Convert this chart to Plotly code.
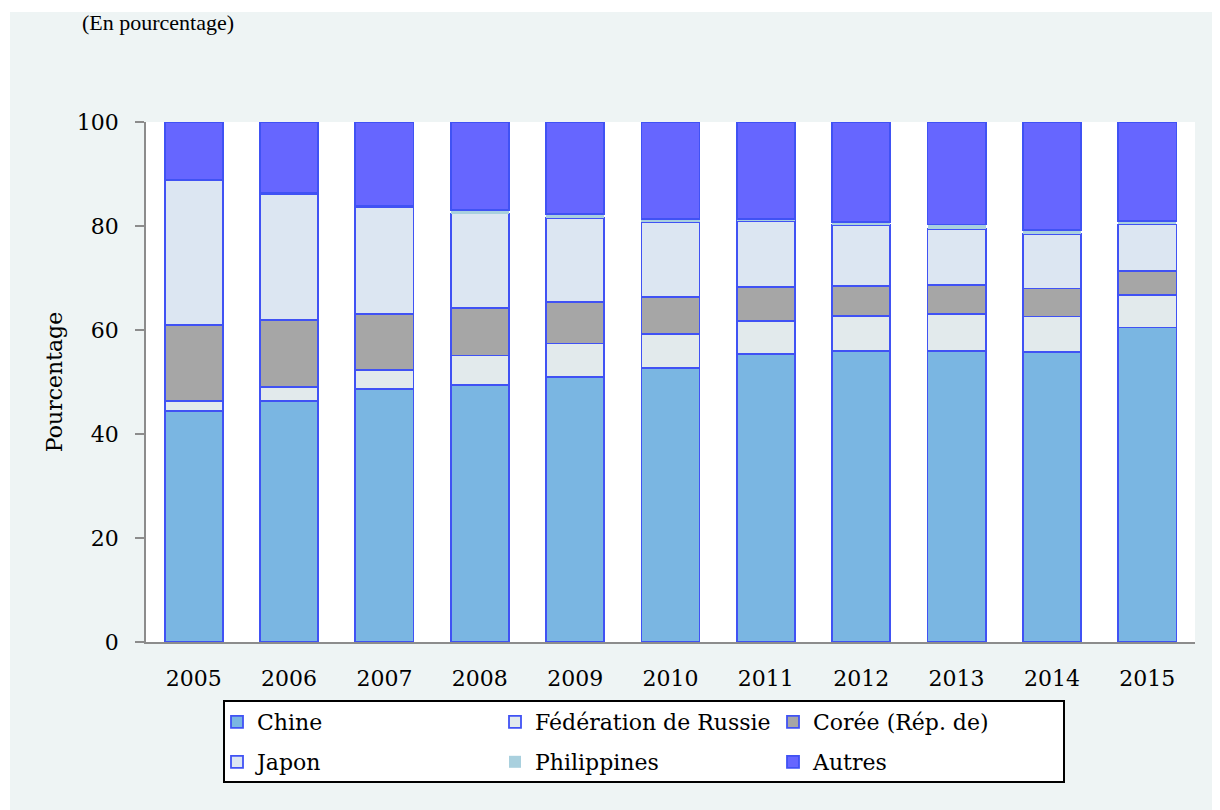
import plotly.graph_objects as go

years = ["2005", "2006", "2007", "2008", "2009", "2010", "2011", "2012", "2013", "2014", "2015"]
chine = [44.5, 46.4, 48.7, 49.5, 51.0, 52.7, 55.4, 56.0, 56.0, 55.7, 60.5]
russie = [1.9, 2.6, 3.6, 5.6, 6.4, 6.6, 6.4, 6.7, 7.1, 6.9, 6.3]
coree = [14.6, 13.0, 10.8, 9.2, 8.0, 7.1, 6.4, 5.8, 5.6, 5.4, 4.5]
japon = [27.9, 24.2, 20.6, 18.1, 16.2, 14.3, 12.7, 11.7, 10.8, 10.5, 9.0]
philippines = [0.0, 0.1, 0.2, 0.7, 0.7, 0.6, 0.5, 0.5, 0.8, 0.8, 0.7]
autres = [11.1, 13.7, 16.1, 16.9, 17.7, 18.7, 18.6, 19.3, 19.7, 20.7, 19.0]

series_names = ["Chine", "Fédération de Russie", "Corée (Rép. de)", "Japon", "Philippines", "Autres"]
series_values = [chine, russie, coree, japon, philippines, autres]
fill_colors = ["#7AB6E2", "#E2EAEC", "#A6A6A6", "#DCE6F2", "#A9D0DE", "#6666FF"]
outline = "#4052F4"
outline_widths = [1.8, 1.8, 1.8, 1.8, 0, 1.8]
legend_ids = ["legend", "legend2", "legend3", "legend4", "legend5", "legend6"]

# page is 1220 x 810, the html body adds an 8px margin
OFF = 8
PAGE_W, PAGE_H = 1220, 810
W, H = PAGE_W - OFF, PAGE_H - OFF
# plot area in page pixels
L, R, T, B = 146 - OFF, 1195 - OFF, 122 - OFF, 642 - OFF
pw, ph = R - L, B - T


def px_x(x):
    """page pixel x -> paper coordinate"""
    return (x - OFF - L) / pw


def px_y(y):
    """page pixel y -> paper coordinate"""
    return (B - (y - OFF)) / ph


FONT = "DejaVu Serif"

fig = go.Figure()
for name, vals, col, lw, lg in zip(series_names, series_values, fill_colors, outline_widths, legend_ids):
    fig.add_trace(go.Bar(
        x=years, y=vals, name=name, legend=lg,
        marker=dict(color=col, line=dict(color=outline, width=lw)),
    ))

# legend layout: 3 columns x 2 rows (page pixel positions of text starts / row centres)
text_starts = [255, 533, 811]
row_y = [722, 762]
legend_layouts = {}
for i, lg in enumerate(legend_ids):
    col = i % 3
    row = i // 3
    legend_layouts[lg] = dict(
        x=px_x(text_starts[col] - 38), y=px_y(row_y[row]),
        xref="paper", yref="paper", xanchor="left", yanchor="middle",
        bgcolor="rgba(0,0,0,0)", borderwidth=0,
        font=dict(family=FONT, size=22, color="black"),
    )

fig.update_layout(
    width=W, height=H,
    margin=dict(l=L, r=W - R, t=T, b=H - B, pad=0),
    paper_bgcolor="#EEF4F4",
    plot_bgcolor="white",
    barmode="stack",
    bargap=0.39,
    showlegend=True,
    font=dict(family=FONT, size=22, color="black"),
    **legend_layouts,
)

fig.update_yaxes(
    range=[0, 100], tickvals=[0, 20, 40, 60, 80, 100],
    showgrid=False, zeroline=False,
    showline=True, linecolor="#8C8C8C", linewidth=1.5,
    ticks="outside", ticklen=9, tickcolor="#8C8C8C", tickwidth=1.5,
    tickfont=dict(family=FONT, size=22, color="black"),
    ticklabelstandoff=12,
    title=dict(text="Pourcentage", font=dict(family=FONT, size=22, color="black"), standoff=8),
)
fig.update_xaxes(
    showgrid=False, showline=True, linecolor="#8C8C8C", linewidth=1.5,
    ticks="", tickfont=dict(family=FONT, size=22, color="black"),
    ticklabelstandoff=16,
)

# white strips outside the light background panel (top and left)
fig.add_shape(type="rect", xref="paper", yref="paper",
              x0=px_x(0), x1=px_x(PAGE_W + 5), y0=px_y(12), y1=px_y(0),
              fillcolor="white", line=dict(width=0), layer="below")
fig.add_shape(type="rect", xref="paper", yref="paper",
              x0=px_x(0), x1=px_x(10), y0=px_y(12), y1=px_y(PAGE_H + 5),
              fillcolor="white", line=dict(width=0), layer="below")
# legend frame
fig.add_shape(type="rect", xref="paper", yref="paper",
              x0=px_x(224), x1=px_x(1064), y0=px_y(701), y1=px_y(782),
              fillcolor="white", line=dict(color="black", width=2), layer="below")

# subtitle at the very top
fig.add_annotation(text="(En pourcentage)", xref="paper", yref="paper",
                   x=px_x(80), y=px_y(OFF), xanchor="left", yanchor="top",
                   showarrow=False,
                   font=dict(family="Liberation Serif", size=22, color="black"))

fig.write_html("out.html")
